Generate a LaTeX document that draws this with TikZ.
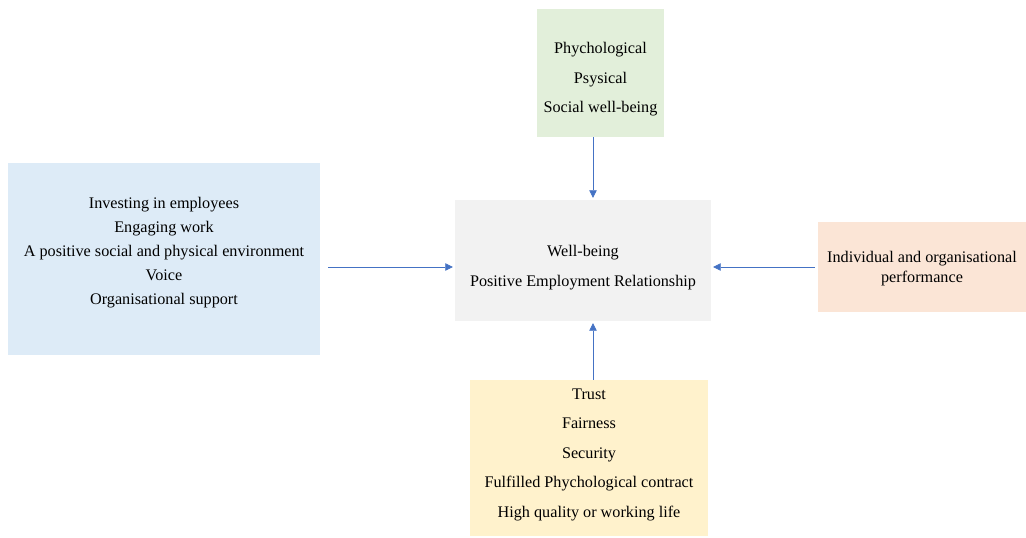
\documentclass[tikz,border=0pt]{standalone}
\usepackage{fontspec}
\setmainfont{Liberation Serif}
\usepackage{xcolor}
\usepackage{tikz}
\usetikzlibrary{calc}
\usetikzlibrary{arrows.meta}
\definecolor{wbgreen}{HTML}{E2EFDA}
\definecolor{wbblue}{HTML}{DDEBF7}
\definecolor{wbgrey}{HTML}{F2F2F2}
\definecolor{wbpeach}{HTML}{FBE5D6}
\definecolor{wbyellow}{HTML}{FFF2CC}
\definecolor{wbarrow}{HTML}{4472C4}
\tikzstyle{factorbox} = [rectangle, draw=none, inner sep=0pt]
\tikzstyle{factortext} = [align=center, inner sep=0pt, font=\fontsize{16.2}{29.5}\selectfont]
\tikzstyle{feed} = [draw=wbarrow, semithick, -{Triangle[width=7.5pt,length=7.5pt]}]

\begin{document}
\begin{tikzpicture}[x=1pt, y=-1pt]
        \useasboundingbox (0,0) rectangle (1026,538);
        % the boxes
        \node [factorbox, fill=wbgreen, minimum width=127pt, minimum height=128pt] (health) at (600.5,73) {};
        \node [factorbox, fill=wbblue, minimum width=312pt, minimum height=192pt] (practices) at (164,259) {};
        \node [factorbox, fill=wbgrey, minimum width=256pt, minimum height=121pt] (core) at (583,260.5) {};
        \node [factorbox, fill=wbpeach, minimum width=208pt, minimum height=90pt] (outcome) at (922,267) {};
        \node [factorbox, fill=wbyellow, minimum width=238pt, minimum height=156pt] (climate) at (589,458) {};
        % the texts
        \node [factortext] (healthtext) at ([yshift=-6.5pt]health.center)
            {Phychological\\Psysical\\Social well-being};
        \node [factortext, font=\fontsize{16.2}{24}\selectfont] (practicestext) at ([yshift=6pt]practices.center)
            {Investing in employees\\Engaging work\\A positive social and physical environment\\Voice\\Organisational support};
        \node [factortext] (coretext) at ([yshift=-7pt]core.center)
            {Well-being\\Positive Employment Relationship};
        \node [factortext, font=\fontsize{16.2}{20}\selectfont] (outcometext) at ([yshift=-2pt]outcome.center)
            {Individual and organisational\\performance};
        \node [factortext] (climatetext) at ([yshift=3.5pt]climate.center)
            {Trust\\Fairness\\Security\\Fulfilled Phychological contract\\High quality or working life};
        % the arrows
        \draw [feed] ([xshift=-7.5pt]health.south) -- ([xshift=10pt,yshift=2pt]core.north);
        \draw [feed] ([xshift=8pt,yshift=-8pt]practices.east) -- ([xshift=-2pt,yshift=-6.5pt]core.west);
        \draw [feed] ([xshift=-3pt]outcome.west) -- ([xshift=2pt]core.east |- outcome.west);
        \draw [feed] ([xshift=4pt]climate.north) -- ([xshift=10pt,yshift=-2pt]core.south);
    \end{tikzpicture}
\end{document}
